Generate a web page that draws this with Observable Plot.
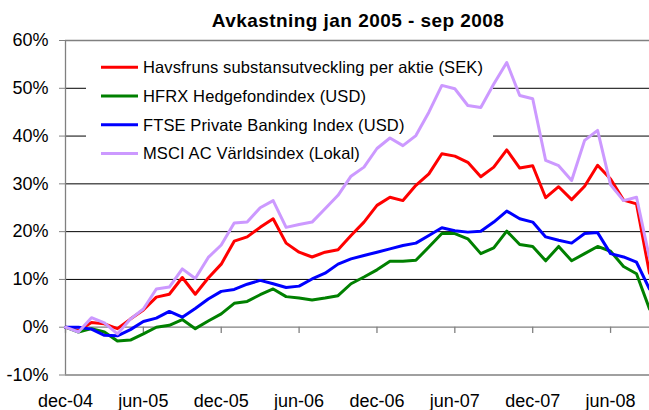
<!DOCTYPE html>
<html><head><meta charset="utf-8">
<script src="https://cdn.jsdelivr.net/npm/d3@7"></script>
<script src="https://cdn.jsdelivr.net/npm/@observablehq/plot@0.6"></script>
<style>body{margin:0;background:#fff;} svg{display:block;}</style>
</head><body><div id="chart"></div>
<script>
const title = "Avkastning jan 2005 - sep 2008";
const seriesNames = [
  "Havsfruns substansutveckling per aktie (SEK)",
  "HFRX Hedgefondindex (USD)",
  "FTSE Private Banking Index (USD)",
  "MSCI AC Världsindex (Lokal)"
];
const seriesColors = ["#ff0000", "#008000", "#0000ff", "#cc99ff"];
// monthly values, dec-04 .. sep-08 (percent)
const havsfrun = [0,-0.7,1.0,0.7,-0.3,1.7,3.6,6.3,6.9,10.4,6.9,10.3,13.2,18.0,18.9,20.9,22.7,17.6,15.7,14.7,15.7,16.2,19.2,22.0,25.5,27.2,26.5,29.7,32.1,36.3,35.8,34.5,31.5,33.5,37.1,33.3,33.8,27.1,29.4,26.7,29.5,33.9,31.0,26.6,25.8,11.3];
const hfrx = [0,-1.0,-0.3,-1.0,-2.9,-2.7,-1.4,0,0.4,1.6,-0.3,1.3,2.8,5.0,5.4,6.8,8.0,6.4,6.1,5.7,6.1,6.6,9.1,10.5,12.0,13.8,13.8,14.0,16.8,19.6,19.6,18.5,15.4,16.6,20.1,17.3,16.9,13.9,16.9,13.9,15.4,16.9,15.9,12.7,11.2,3.8];
const ftse = [0,0,-0.4,-1.7,-1.8,-0.5,1.2,1.9,3.3,2.1,3.9,5.9,7.5,7.9,9.0,9.8,9.1,8.3,8.6,10.1,11.3,13.2,14.3,15.0,15.7,16.4,17.1,17.6,19.2,20.8,20.2,19.9,20.1,22.0,24.3,22.7,22.0,18.9,18.2,17.6,19.6,19.8,15.4,14.7,13.6,8.0];
const msci = [0,-1.0,2.0,0.9,-1.4,1.7,3.8,8.0,8.4,12.2,10.2,14.6,17.2,21.8,22.0,25.0,26.5,20.9,21.5,22.0,24.8,27.6,31.6,33.5,37.4,39.6,38.0,40.1,45.0,50.6,49.9,46.4,46.0,50.9,55.4,48.5,47.8,34.9,33.8,30.7,39.1,41.2,29.8,26.5,27.2,14.5];
const xTickMonths = [0, 6, 12, 18, 24, 30, 36, 42];
const xTickLabels = ["dec-04","jun-05","dec-05","jun-06","dec-06","jun-07","dec-07","jun-08"];
const yTicks = [-10, 0, 10, 20, 30, 40, 50, 60];
const gridValues = [10, 20, 30, 40, 50];

const seriesValues = [havsfrun, hfrx, ftse, msci];
const rows = seriesValues.flatMap((vals, s) =>
  vals.map((v, i) => ({series: seriesNames[s], month: i, value: v})));

const FONT = "'Liberation Sans', Arial, sans-serif";
const AXIS = "#808080";

const chart = Plot.plot({
  width: 649,
  height: 410,
  marginLeft: 65,
  marginRight: 0,
  marginTop: 40,
  marginBottom: 35.5,
  style: {fontFamily: FONT, fontSize: "18px", color: "#000", background: "#fff"},
  x: {domain: [0, 45], axis: null, label: null},
  y: {domain: [-10, 60], axis: null, label: null},
  color: {domain: seriesNames, range: seriesColors},
  marks: [
    Plot.ruleY(gridValues, {stroke: "#000", strokeWidth: 1}),
    Plot.ruleY([60, -10, 0], {stroke: AXIS, strokeWidth: 1.3}),
    Plot.ruleX([0], {stroke: AXIS, strokeWidth: 1.3}),
    Plot.ruleX(xTickMonths, {y1: 0, y2: -1.3, stroke: AXIS, strokeWidth: 1.3}),
    Plot.axisY({ticks: yTicks, tickFormat: d => d + "%", tickSize: 6, tickPadding: 11,
      stroke: AXIS, fill: "#000", fontSize: 18, label: null}),
    Plot.axisX({ticks: xTickMonths, tickFormat: d => xTickLabels[xTickMonths.indexOf(d)],
      tickSize: 0, tickPadding: 19, fill: "#000", fontSize: 18, label: null}),
    Plot.line(rows, {x: "month", y: "value", z: "series", stroke: "series",
      strokeWidth: 3, strokeLinejoin: "round"})
  ]
});
document.getElementById("chart").appendChild(chart);

const svg = d3.select(chart);
const ns = "http://www.w3.org/2000/svg";
// legend box (white, behind lines, above grid)
const firstRule = chart.querySelector('g[aria-label="rule"]');
const box = document.createElementNS(ns, "rect");
box.setAttribute("x", 86); box.setAttribute("y", 46);
box.setAttribute("width", 407); box.setAttribute("height", 123);
box.setAttribute("fill", "#fff");
firstRule.after(box);

// title
svg.append("text").attr("x", 358).attr("y", 27).attr("text-anchor", "middle")
  .attr("font-family", FONT).attr("font-weight", "bold").attr("font-size", 19)
  .attr("letter-spacing", 0.45)
  .attr("fill", "#000").text(title);

// legend entries
const lg = svg.append("g").attr("text-anchor", "start");
seriesNames.forEach((name, i) => {
  const y = 67.3 + i * 28.7;
  lg.append("line").attr("x1", 101).attr("x2", 138).attr("y1", y).attr("y2", y)
    .attr("stroke", seriesColors[i]).attr("stroke-width", 3);
  lg.append("text").attr("x", 143).attr("y", y).attr("dy", "0.36em")
    .attr("text-anchor", "start").attr("letter-spacing", 0.12)
    .attr("font-family", FONT).attr("font-size", 16.5).attr("fill", "#000").text(name);
});
</script>
</body></html>
